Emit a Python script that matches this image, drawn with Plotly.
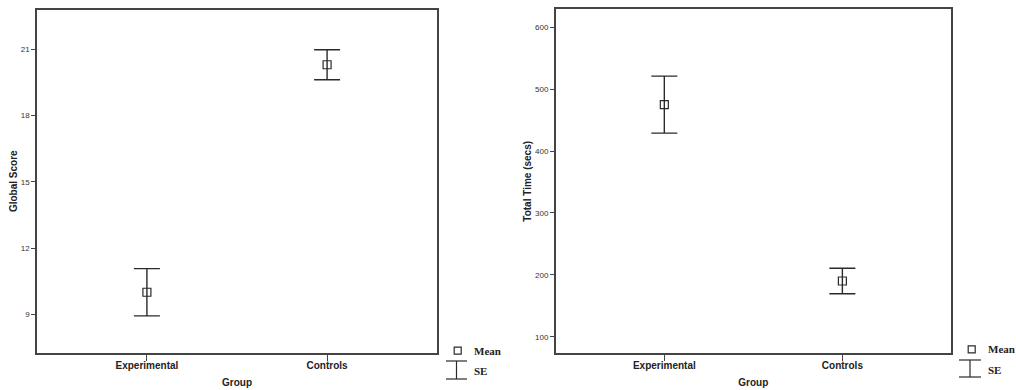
import plotly.graph_objects as go

groups = ["Experimental", "Controls"]
global_mean = [10.0, 20.3]
global_se = [1.07, 0.68]
time_mean = [475, 190]
time_se = [46, 20.5]

W, H = 1016, 390
def fx(px): return px / W
def fy(py): return 1 - py / H

fig = go.Figure()
ink = "#2a2a2a"
for xa, ya, m, se in [("x", "y", global_mean, global_se), ("x2", "y2", time_mean, time_se)]:
    fig.add_trace(go.Scatter(
        x=groups, y=m, xaxis=xa, yaxis=ya, mode="markers",
        marker=dict(symbol="square-open", size=8, color=ink, line=dict(width=1.2, color=ink)),
        error_y=dict(type="data", array=se, visible=True, color=ink, thickness=1.4, width=13),
        showlegend=False, hoverinfo="skip"))

axfont = dict(family="Liberation Sans, Arial", size=10, color="#222", weight="bold")
ytitlefont = dict(family="Liberation Sans, Arial", size=10, color="#222", weight="bold")
common_x = dict(type="category", showline=True, mirror=True, linecolor="#444", linewidth=1.5,
                ticks="outside", ticklen=6, tickcolor="#444", showgrid=False, zeroline=False,
                tickfont=axfont, range=[-0.61, 1.61], ticklabelstandoff=-4,
                title=dict(text="Group", font=axfont, standoff=9))
common_y = dict(showline=True, mirror=True, linecolor="#444", linewidth=1.5,
                ticks="outside", ticklen=4, tickcolor="#444", showgrid=False, zeroline=False,
                tickfont=dict(family="Liberation Sans, Arial", size=8, color="#333"))

fig.update_layout(
    width=W, height=H, margin=dict(l=0, r=0, t=0, b=0),
    plot_bgcolor="white", paper_bgcolor="white",
    xaxis=dict(domain=[fx(37), fx(437)], anchor="y", **common_x),
    yaxis=dict(domain=[fy(353), fy(9.5)], anchor="x", range=[7.25, 22.8], tickvals=[9, 12, 15, 18, 21],
               title=dict(text="Global Score", font=ytitlefont, standoff=1),
               **common_y),
    xaxis2=dict(domain=[fx(555.7), fx(951)], anchor="y2", **common_x),
    yaxis2=dict(domain=[fy(353.3), fy(9.3)], anchor="x2", range=[73.2, 629], tickvals=[100, 200, 300, 400, 500, 600],
                title=dict(text="Total Time (secs)", font=ytitlefont, standoff=1),
                **common_y),
)

# Legends (drawn as decoration in paper coordinates)
legfont = dict(family="Liberation Serif, Times New Roman", size=11, color="#222", weight="bold")
for sq_x, sq_y, l1, l2, lx0, lx1, lxm in [(457.7, 350.7, 361, 379, 446, 467, 456.5),
                                          (971.7, 349.3, 360, 377, 959, 981, 970)]:
    fig.add_shape(type="rect", xref="paper", yref="paper",
                  x0=fx(sq_x - 3.5), x1=fx(sq_x + 3.5), y0=fy(sq_y + 3.5), y1=fy(sq_y - 3.5),
                  line=dict(color=ink, width=1.2))
    for yy in (l1, l2):
        fig.add_shape(type="line", xref="paper", yref="paper", x0=fx(lx0), x1=fx(lx1), y0=fy(yy), y1=fy(yy),
                      line=dict(color=ink, width=1.2))
    fig.add_shape(type="line", xref="paper", yref="paper", x0=fx(lxm), x1=fx(lxm), y0=fy(l1), y1=fy(l2),
                  line=dict(color=ink, width=1.2))
    fig.add_annotation(xref="paper", yref="paper", x=fx(sq_x + 14), y=fy(sq_y), text="Mean",
                       showarrow=False, xanchor="left", yanchor="middle", font=legfont)
    fig.add_annotation(xref="paper", yref="paper", x=fx(sq_x + 14), y=fy((l1 + l2) / 2 + 1), text="SE",
                       showarrow=False, xanchor="left", yanchor="middle", font=legfont)

fig.write_html("out.html", config={"displayModeBar": False},
               post_script="document.body.style.margin='0';document.body.style.overflow='hidden';")
